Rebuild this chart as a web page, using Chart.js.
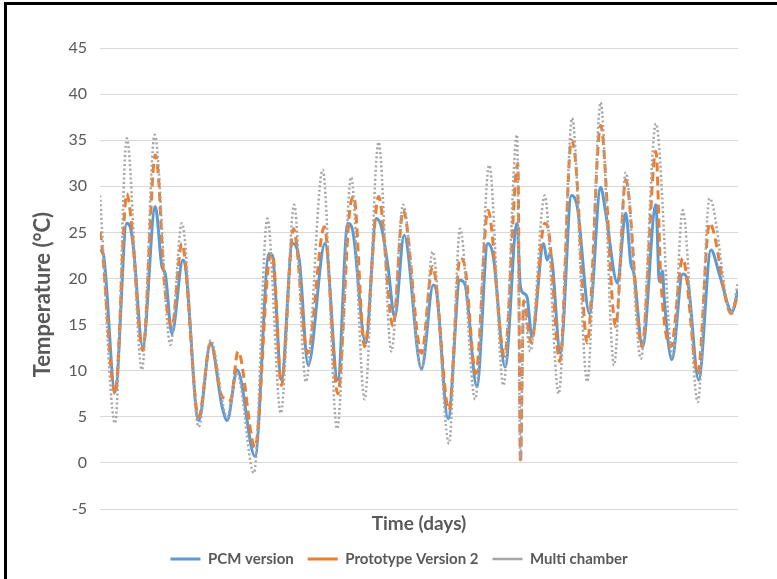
<!DOCTYPE html>
<html lang="en">
<head>
    <meta charset="UTF-8">
    <title>Temperature over time</title>
    <script src="https://cdn.jsdelivr.net/npm/chart.js"></script>
    <style>
        body {
            margin: 0;
            background: #ffffff;
            overflow: hidden;
        }
        .chart-wrap {
            position: relative;
            width: 777px;
            height: 579px;
        }
        .frame {
            position: absolute;
            left: 4px;
            top: 2px;
            width: 820px;
            height: 620px;
            border: 3px solid #000;
            pointer-events: none;
        }
    </style>
</head>
<body>
    <div class="chart-wrap">
        <canvas id="tempChart" width="777" height="579"></canvas>
        <div class="frame"></div>
    </div>

    <script>
        // values (x in days, y in degrees C)
        const pcmDays = [0.00, 0.16, 0.71, 1.26, 1.42, 1.57, 2.01, 2.60, 2.91, 3.07, 3.38, 3.90, 4.02, 4.64, 5.20, 5.74, 5.98, 6.45, 7.29, 7.95, 8.11, 8.53, 9.05, 9.37, 9.79, 10.58, 11.18, 11.65, 11.89, 12.49, 12.99, 13.23, 13.54, 13.86, 14.30, 15.12, 15.67, 15.83, 16.37, 16.93, 17.16, 17.72, 18.24, 18.50, 19.05, 19.61, 19.76, 19.92, 20.08, 20.31, 20.86, 21.02, 21.18, 21.65, 22.17, 22.44, 23.02, 23.54, 23.78, 24.33, 24.72, 24.96, 25.11, 25.51, 26.14, 26.30, 26.45, 26.53, 26.89, 27.40, 27.63, 28.15, 28.73, 29.12, 29.72, 30.00];
        const pcmTemp = [23.1, 22.6, 7.7, 26.0, 25.6, 23.4, 12.6, 27.8, 21.3, 20.5, 14.0, 22.0, 21.3, 4.6, 13.0, 6.1, 4.6, 10.1, 0.7, 22.7, 22.5, 9.0, 23.8, 22.0, 10.6, 23.8, 9.0, 26.0, 25.1, 13.0, 26.5, 25.6, 21.3, 15.8, 24.7, 10.2, 19.3, 18.5, 4.8, 19.8, 19.4, 8.3, 23.8, 22.3, 10.4, 26.0, 19.3, 18.4, 18.0, 13.7, 23.8, 22.0, 22.7, 11.9, 29.0, 27.8, 16.2, 29.9, 27.1, 19.5, 27.1, 21.6, 20.5, 12.6, 28.0, 19.7, 20.8, 17.9, 11.2, 20.5, 19.8, 9.0, 23.1, 20.5, 16.4, 18.8];

        const protoDays = [0.00, 0.08, 0.71, 1.26, 1.45, 2.01, 2.60, 2.75, 2.99, 3.38, 3.85, 4.64, 5.20, 5.74, 6.14, 6.49, 7.29, 7.95, 8.11, 8.53, 9.10, 9.76, 10.55, 11.18, 11.73, 11.93, 12.44, 13.10, 13.78, 14.25, 15.12, 15.64, 16.41, 16.93, 17.16, 17.67, 18.24, 19.02, 19.56, 19.65, 19.77, 19.92, 20.28, 20.91, 21.10, 21.62, 22.17, 22.36, 22.91, 23.54, 24.25, 24.72, 25.48, 26.14, 26.37, 26.85, 27.40, 28.11, 28.66, 29.68, 30.00];
        const protoTemp = [25.1, 23.8, 7.5, 29.2, 26.7, 12.2, 33.4, 31.0, 20.5, 14.8, 23.8, 5.0, 13.0, 7.2, 6.8, 12.1, 1.7, 22.0, 22.7, 8.4, 25.4, 11.9, 25.6, 7.5, 27.1, 28.9, 12.6, 28.9, 14.8, 27.4, 11.9, 21.3, 5.7, 22.2, 21.3, 9.7, 27.4, 11.6, 31.4, 32.5, 0.0, 17.6, 13.0, 26.0, 25.1, 11.0, 35.0, 32.8, 13.0, 36.6, 14.8, 30.7, 12.6, 33.8, 20.0, 12.6, 22.2, 9.7, 26.0, 16.2, 18.4];

        const multiDays = [0.00, 0.71, 1.26, 1.97, 2.57, 3.31, 3.85, 4.64, 5.20, 5.98, 6.45, 7.24, 7.87, 8.50, 9.13, 9.68, 10.47, 11.15, 11.81, 12.44, 13.10, 13.70, 14.25, 15.12, 15.64, 16.41, 16.93, 17.64, 18.30, 18.97, 19.61, 19.77, 19.92, 20.23, 20.91, 21.57, 22.20, 22.91, 23.54, 24.17, 24.72, 25.43, 26.14, 26.93, 27.40, 28.11, 28.66, 29.68, 30.00];
        const multiTemp = [29.0, 4.3, 35.2, 10.1, 35.6, 12.8, 26.0, 3.9, 13.3, 5.0, 9.7, -1.1, 26.5, 5.4, 28.0, 8.8, 31.8, 3.7, 31.0, 6.9, 34.8, 12.1, 28.0, 10.1, 22.9, 2.1, 25.4, 6.9, 32.3, 8.4, 35.6, 0.3, 17.0, 12.1, 29.0, 7.5, 37.4, 8.8, 39.1, 10.6, 31.5, 11.3, 36.8, 11.5, 27.4, 6.6, 28.7, 16.2, 19.6];

        const seriesNames = ['PCM version', 'Prototype Version 2', 'Multi chamber'];
        const yMin = -5, yMax = 45, yStep = 5;

        function toPoints(days, temps) {
            return days.map((d, i) => ({ x: d, y: temps[i] }));
        }

        const textColor = '#595959';
        const fontFamily = 'Lato, Carlito, Calibri, sans-serif';

        // the legend in the original sits a bit right of centre
        const legendShift = {
            id: 'legendShift',
            afterLayout(chart) {
                chart.legend.left += 30;
                chart.legend.right += 30;
            }
        };

        new Chart(document.getElementById('tempChart'), {
            type: 'line',
            data: {
                datasets: [
                    {
                        label: seriesNames[0],
                        data: toPoints(pcmDays, pcmTemp),
                        borderColor: '#5B9BD5',
                        backgroundColor: '#5B9BD5',
                        borderWidth: 3,
                        order: 3
                    },
                    {
                        label: seriesNames[1],
                        data: toPoints(protoDays, protoTemp),
                        borderColor: '#ED7D31',
                        backgroundColor: '#ED7D31',
                        borderWidth: 3,
                        borderDash: [9, 5],
                        order: 2
                    },
                    {
                        label: seriesNames[2],
                        data: toPoints(multiDays, multiTemp),
                        borderColor: '#A5A5A5',
                        backgroundColor: '#A5A5A5',
                        borderWidth: 2.5,
                        borderDash: [2, 2.5],
                        order: 1
                    }
                ]
            },
            options: {
                responsive: false,
                animation: false,
                cubicInterpolationMode: 'monotone',
                elements: {
                    point: { radius: 0 },
                    line: { fill: false }
                },
                layout: {
                    padding: { left: 0, right: 39, top: 48, bottom: 3.5 }
                },
                scales: {
                    x: {
                        type: 'linear',
                        min: 0,
                        max: 30,
                        ticks: { display: false },
                        grid: { display: false },
                        border: { display: false },
                        title: {
                            display: true,
                            text: 'Time (days)',
                            color: textColor,
                            font: { family: fontFamily, size: 19, weight: 'bold' },
                            padding: { top: 2, bottom: 2 }
                        },
                        afterFit: (scale) => { scale.height = 28.5; }
                    },
                    y: {
                        min: yMin,
                        max: yMax,
                        ticks: {
                            stepSize: yStep,
                            padding: 13,
                            color: textColor,
                            font: { family: fontFamily, size: 16 }
                        },
                        grid: { color: '#D9D9D9', drawTicks: false },
                        border: { display: false },
                        title: {
                            display: true,
                            text: 'Temperature (°C)\u00A0\u00A0\u00A0\u00A0\u00A0\u00A0',
                            color: textColor,
                            font: { family: fontFamily, size: 22, weight: 'bold' },
                            padding: { top: 30, bottom: 30 }
                        },
                        afterFit: (scale) => { scale.width = 100; }
                    }
                },
                plugins: {
                    legend: {
                        position: 'bottom',
                        maxHeight: 38,
                        labels: {
                            usePointStyle: true,
                            pointStyle: 'line',
                            pointStyleWidth: 30,
                            padding: 14,
                            color: textColor,
                            font: { family: fontFamily, size: 15, weight: 'bold' },
                            sort: (a, b) => a.datasetIndex - b.datasetIndex
                        }
                    },
                    tooltip: { enabled: false }
                }
            },
            plugins: [legendShift]
        });
    </script>
</body>
</html>
